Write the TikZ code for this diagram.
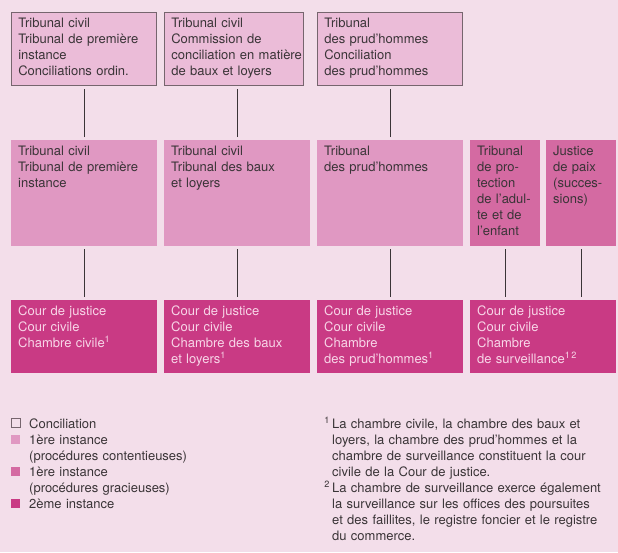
\documentclass[tikz,border=0pt]{standalone}
\usepackage{fontspec}
\setmainfont{TeX Gyre Heros}
\definecolor{bgpink}{HTML}{F3DEEA}
\definecolor{conpink}{HTML}{EBBCD8}
\definecolor{firstpink}{HTML}{E098C2}
\definecolor{gracpink}{HTML}{D46AA2}
\definecolor{secpink}{HTML}{C93A84}
\definecolor{textgrey}{HTML}{3A3437}
\definecolor{bordergrey}{HTML}{76656E}
\definecolor{lighttext}{HTML}{F8D6E8}
\begin{document}
\begin{tikzpicture}[x=1pt,y=-1pt,
		font=\fontsize{13}{16}\selectfont,
		box/.style={anchor=north west,align=left,inner xsep=7pt,inner ysep=5pt,text height=10pt,text=textgrey},
		concil/.style={box,fill=conpink,draw=bordergrey,line width=0.6pt},
		first/.style={box,fill=firstpink},
		grac/.style={box,fill=gracpink},
		second/.style={box,fill=secpink,text=lighttext},
		key/.style={anchor=south west,minimum size=9pt,inner sep=0pt},
		label/.style={anchor=north west,align=left,inner sep=0pt,text height=10pt,text width=#1,text=textgrey},
		link/.style={draw=textgrey,line width=0.8pt,shorten <=3pt,shorten >=3pt}]
		
		% Define the background
		\fill[bgpink] (0,0) rectangle (618,552);
		\useasboundingbox (0,0) rectangle (618,552);
		
		% Conciliation row
		\node[concil,text width=131pt,text depth=53pt] (concil1) at (11,12) {Tribunal civil\\Tribunal de première\\instance\\Conciliations ordin.};
		\node[concil,text width=125pt,text depth=53pt] (concil2) at (164,12) {Tribunal civil\\Commission de\\\mbox{conciliation en matière}\\de baux et loyers};
		\node[concil,text width=131pt,text depth=53pt] (concil3) at (317,12) {Tribunal\\des prud’hommes\\Conciliation\\des prud’hommes};
		
		% First instance row
		\node[first,text width=132pt,text depth=86pt] (first1) at (11,140) {Tribunal civil\\Tribunal de première\\instance};
		\node[first,text width=132pt,text depth=86pt] (first2) at (164,140) {Tribunal civil\\Tribunal des baux\\et loyers};
		\node[first,text width=132pt,text depth=86pt] (first3) at (317,140) {Tribunal\\des prud’hommes};
		\node[grac,text width=56pt,text depth=86pt] (grac1) at (470,140) {Tribunal\\de pro-\\tection\\de l’adul-\\te et de\\l’enfant};
		\node[grac,text width=56pt,text depth=86pt] (grac2) at (546,140) {Justice\\de paix\\(succes-\\sions)};
		
		% Second instance row
		\node[second,text width=132pt,text depth=53pt] (second1) at (11,300) {Cour de justice\\Cour civile\\Chambre civile\textsuperscript{1}};
		\node[second,text width=132pt,text depth=53pt] (second2) at (164,300) {Cour de justice\\Cour civile\\Chambre des baux\\et loyers\textsuperscript{1}};
		\node[second,text width=132pt,text depth=53pt] (second3) at (317,300) {Cour de justice\\Cour civile\\Chambre\\des prud’hommes\textsuperscript{1}};
		\node[second,text width=132pt,text depth=53pt] (second4) at (470,300) {Cour de justice\\Cour civile\\Chambre\\de surveillance\textsuperscript{1\,2}};
		
		% Draw the connectors
		\draw[link] (first1.north) -- (first1.north |- concil1.south);
		\draw[link] (first2.north) -- (first2.north |- concil2.south);
		\draw[link] (first3.north) -- (first3.north |- concil3.south);
		\draw[link] (first1.south) -- (first1.south |- second1.north);
		\draw[link] (first2.south) -- (first2.south |- second2.north);
		\draw[link] (first3.south) -- (first3.south |- second3.north);
		\draw[link] (grac1.south) -- (grac1.south |- second4.north);
		\draw[link] (grac2.south) -- (grac2.south |- second4.north);
		
		% Legend
		\node[key,draw=bordergrey,line width=0.6pt] (keyconcil) at (11,428) {};
		\node[key,fill=firstpink] (keyfirst) at (11,444) {};
		\node[key,fill=gracpink] (keygrac) at (11,476) {};
		\node[key,fill=secpink] (keysecond) at (11,508) {};
		\node[label=200pt] (txtconcil) at (29,418) {Conciliation};
		\node[label=200pt] (txtfirst) at (29,434) {1ère instance\\(procédures contentieuses)};
		\node[label=200pt] (txtgrac) at (29,466) {1ère instance\\(procédures gracieuses)};
		\node[label=200pt] (txtsecond) at (29,498) {2ème instance};
		
		% Footnotes
		\node[label=284pt] (note1) at (332,418) {\llap{\textsuperscript{1}\,}La chambre civile, la chambre des baux et\\loyers, la chambre des prud’hommes et la\\chambre de surveillance constituent la cour\\civile de la Cour de justice.};
		\node[label=284pt] (note2) at (332,482) {\llap{\textsuperscript{2}\,}La chambre de surveillance exerce également\\la surveillance sur les offices des poursuites\\et des faillites, le registre foncier et le registre\\du commerce.};
		
\end{tikzpicture}
\end{document}
